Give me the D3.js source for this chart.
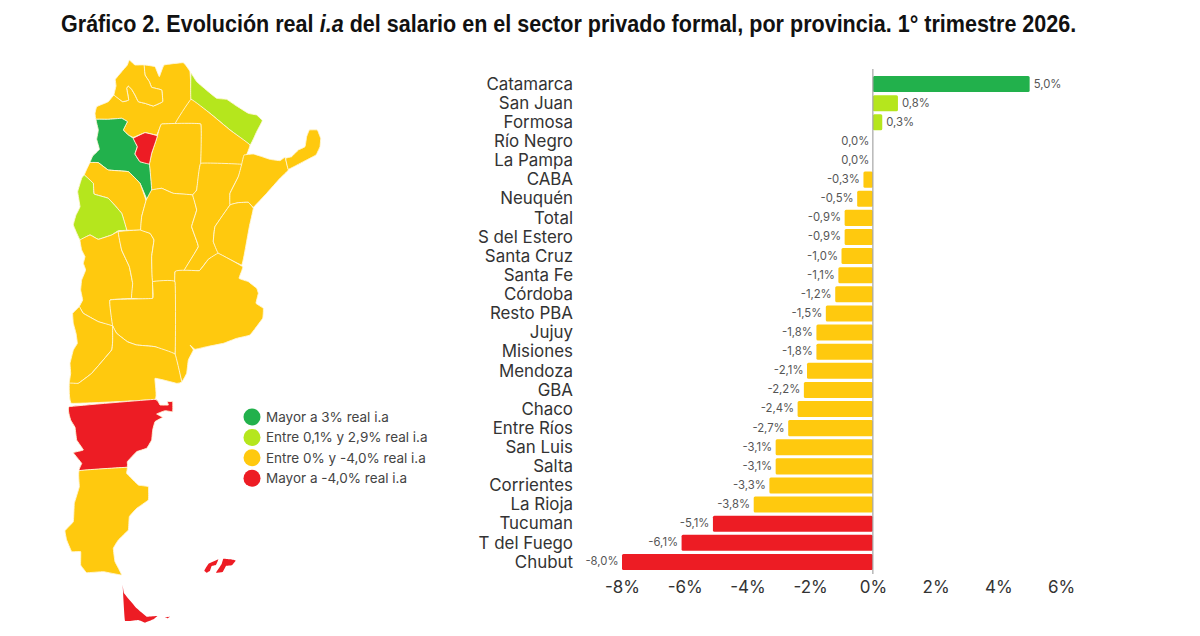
<!DOCTYPE html>
<html lang="es">
<head>
<meta charset="utf-8">
<script src="https://cdn.jsdelivr.net/npm/d3@7"></script>
<style>
html,body{margin:0;padding:0;background:#fff}
svg{display:block}
text{font-family:Inter,"Noto Sans",sans-serif}
</style>
</head>
<body>
<svg id="chart" width="1200" height="636"></svg>
<script>
// Salary change by province, sorted from highest to lowest
const categories = ["Catamarca","San Juan","Formosa","Río Negro","La Pampa","CABA","Neuquén","Total","S del Estero","Santa Cruz","Santa Fe","Córdoba","Resto PBA","Jujuy","Misiones","Mendoza","GBA","Chaco","Entre Ríos","San Luis","Salta","Corrientes","La Rioja","Tucuman","T del Fuego","Chubut"];
const values = [5.0,0.8,0.3,0.0,0.0,-0.3,-0.5,-0.9,-0.9,-1.0,-1.1,-1.2,-1.5,-1.8,-1.8,-2.1,-2.2,-2.4,-2.7,-3.1,-3.1,-3.3,-3.8,-5.1,-6.1,-8.0];
const axisTicks = [-8,-6,-4,-2,0,2,4,6];

const legendLabels = ["Mayor a 3% real i.a","Entre 0,1% y 2,9% real i.a","Entre 0% y -4,0% real i.a","Mayor a -4,0% real i.a"];
const legendColors = ["#22B14C","#B5E61D","#FFC90E","#ED1C24"];

const titleParts = [["Gráfico 2. Evolución real ","normal"],["i.a","italic"],[" del salario en el sector privado formal, por provincia. 1° trimestre 2026.","normal"]];

// Province outlines in map units; each one takes its fill from the salary table
const provinceShapes = [
  ["Salta",[[312,45],[345,50],[358,80],[372,45],[430,38],[450,65],[453,148],[405,222],[365,222],[350,255],[315,248],[280,262],[265,255],[250,240],[262,215],[245,205],[205,208],[168,208],[165,190],[170,170],[205,155],[222,135],[248,155],[266,150],[260,115],[265,108],[275,118],[285,135],[295,155],[315,160],[340,168],[368,155],[365,120],[335,112],[328,95],[315,75]]],
  ["Jujuy",[[222,135],[228,108],[226,88],[245,65],[262,45],[268,30],[285,45],[312,45],[315,75],[328,95],[335,112],[365,120],[368,155],[340,168],[315,160],[295,155],[285,135],[275,118],[265,108],[260,115],[266,150],[248,155]]],
  ["Formosa",[[453,70],[470,95],[505,125],[530,145],[560,148],[585,165],[625,190],[650,195],[667,212],[650,245],[630,285],[570,240],[510,190],[453,148]]],
  ["Chaco",[[453,148],[510,190],[570,240],[630,285],[605,343],[482,340],[482,222],[405,222]]],
  ["S del Estero",[[365,222],[482,222],[482,340],[470,420],[458,435],[400,430],[365,415],[335,420],[328,342],[335,310],[352,258]]],
  ["Catamarca",[[168,208],[205,208],[245,205],[262,215],[250,240],[265,255],[280,265],[292,290],[285,312],[300,335],[328,342],[335,420],[322,450],[300,400],[265,365],[205,360],[175,338],[150,338],[158,318],[178,298],[170,268],[175,240]]],
  ["Tucuman",[[280,265],[315,248],[352,258],[335,310],[328,342],[300,335],[285,312],[292,290]]],
  ["La Rioja",[[150,338],[175,338],[205,360],[265,365],[300,400],[318,452],[305,500],[302,540],[260,540],[245,490],[205,445],[162,432],[160,400],[133,375]]],
  ["San Juan",[[133,375],[160,400],[162,432],[205,445],[245,490],[260,540],[235,542],[215,555],[175,568],[150,555],[120,570],[100,525],[108,495],[120,470],[113,425],[125,385]]],
  ["Mendoza",[[120,570],[150,555],[175,568],[215,555],[235,545],[245,600],[268,650],[278,700],[275,745],[210,750],[218,828],[175,815],[130,790],[118,770],[128,750],[122,720],[125,690],[137,660],[130,640],[135,620],[125,600]]],
  ["San Luis",[[235,545],[302,540],[330,550],[342,570],[335,620],[338,745],[275,745],[278,700],[268,650],[245,600]]],
  ["Córdoba",[[318,452],[335,420],[365,415],[400,430],[458,435],[470,480],[455,530],[475,590],[432,662],[405,665],[405,695],[338,695],[335,620],[342,570],[330,550],[302,540],[305,500]]],
  ["Santa Fe",[[482,340],[605,343],[595,380],[570,430],[570,465],[525,530],[520,575],[535,610],[505,628],[478,662],[432,662],[475,590],[455,530],[470,480],[458,435],[470,420]]],
  ["Corrientes",[[612,315],[640,312],[660,318],[690,328],[720,332],[735,322],[745,360],[720,385],[680,430],[640,472],[625,457],[595,458],[570,464],[570,430],[595,380],[605,343]]],
  ["Misiones",[[737,325],[755,320],[775,300],[795,290],[800,260],[808,240],[832,240],[842,265],[840,290],[828,315],[790,335],[745,358]]],
  ["Entre Ríos",[[570,465],[595,458],[625,457],[640,475],[628,530],[618,585],[605,645],[535,610],[520,575],[525,530]]],
  ["Resto PBA",[[405,665],[478,662],[505,628],[535,610],[608,650],[597,685],[625,695],[650,715],[655,730],[648,760],[670,775],[668,805],[630,855],[590,865],[550,880],[500,890],[465,898],[450,885],[460,900],[445,930],[440,970],[425,995],[405,912]]],
  ["La Pampa",[[210,750],[338,745],[338,695],[405,695],[405,912],[345,890],[290,885],[262,875],[230,850],[218,828]]],
  ["Neuquén",[[118,770],[130,790],[175,815],[218,828],[218,870],[215,900],[155,970],[115,1000],[88,1000],[92,970],[90,940],[100,900],[112,880],[108,850],[100,820],[98,790]]],
  ["Río Negro",[[218,828],[230,850],[262,875],[290,885],[345,890],[405,912],[425,995],[410,1000],[345,985],[345,1048],[95,1060],[88,1000],[115,1000],[155,970],[215,900],[218,870]]],
  ["Chubut",[[88,1070],[345,1048],[360,1065],[385,1065],[382,1055],[398,1055],[398,1085],[375,1082],[350,1092],[368,1102],[345,1115],[338,1140],[335,1170],[320,1195],[290,1205],[262,1235],[260,1252],[118,1262],[125,1240],[100,1208],[130,1200],[110,1170],[105,1132],[92,1110]]],
  ["Santa Cruz",[[118,1262],[260,1252],[260,1270],[295,1305],[325,1310],[325,1350],[290,1375],[268,1400],[265,1440],[235,1470],[220,1495],[225,1535],[245,1575],[190,1565],[140,1568],[122,1545],[122,1505],[95,1505],[80,1470],[75,1442],[100,1415],[103,1360],[118,1310]]],
  ["T del Fuego",[[248,1605],[252,1630],[290,1675],[320,1700],[352,1698],[340,1708],[315,1718],[295,1710],[255,1712]]],
  ["T del Fuego",[[375,1702],[390,1700],[382,1705]]],
  ["T del Fuego",[[493,1562],[505,1542],[535,1528],[528,1545],[515,1548],[510,1562],[500,1568]]],
  ["T del Fuego",[[528,1568],[545,1542],[550,1526],[572,1528],[587,1532],[575,1546],[558,1548],[548,1566]]]
];

const svg = d3.select("#chart");
const valueByName = new Map(categories.map((c,i)=>[c,values[i]]));

// Four colour bands shared by the bars, the provinces and the legend
const band = d3.scaleThreshold().domain([-4,0,3]).range([legendColors[3],legendColors[2],legendColors[1],legendColors[0]]);
const fillFor = v => v === 0 ? legendColors[2] : band(v);
const pct = d3.formatLocale({decimal:",",thousands:".",grouping:[3],currency:["","%"],minus:"-"}).format(".1f");

// Title: three runs laid end to end, then squeezed to the page's heading width
const titleGroup = svg.append("g");
let cursor = 0;
titleParts.forEach(([txt,style])=>{
  const t = titleGroup.append("text").attr("x",cursor).attr("y",0)
    .attr("xml:space","preserve").style("white-space","pre")
    .style("font-family",'"Liberation Sans","Arial",sans-serif')
    .style("font-weight",700).style("font-style",style)
    .style("font-size","23px").attr("fill","#111").text(txt);
  cursor += t.node().getComputedTextLength();
});
titleGroup.attr("transform",`translate(61,32) scale(${1016/cursor},1)`);

// Map
const mx = d3.scaleLinear().domain([0,1200]).range([40,440]);
const my = d3.scaleLinear().domain([0,1800]).range([50,650]);
const outline = d3.line().x(d=>mx(d[0])).y(d=>my(d[1])).curve(d3.curveCardinalClosed.tension(0.8));
svg.append("g").selectAll("path").data(provinceShapes).join("path")
  .attr("d",d=>outline(d[1]))
  .attr("fill",d=>fillFor(valueByName.get(d[0])))
  .attr("stroke",d=>d[0]==="T del Fuego"?"none":"#fff6d8")
  .attr("stroke-width",0.9)
  .attr("stroke-linejoin","round");

// Legend
const legend = svg.append("g").selectAll("g").data(legendLabels).join("g")
  .attr("transform",(d,i)=>`translate(252,${417+i*20.4})`);
legend.append("circle").attr("r",8.5).attr("fill",(d,i)=>legendColors[i]);
legend.append("text").attr("x",14).attr("dy","0.35em").style("font-size","13.5px").attr("fill","#444").text(d=>d);

// Bars
const x = d3.scaleLinear().domain([-8,6]).range([622,1061]);
const y = d3.scaleBand().domain(categories).range([74.5,571.5]).paddingInner(0.16).paddingOuter(0.08);

const bars = svg.append("g").selectAll("g").data(categories).join("g");
bars.filter((d,i)=>values[i]!==0).append("rect")
  .attr("x",d=>x(Math.min(0,valueByName.get(d))))
  .attr("y",d=>y(d))
  .attr("width",d=>Math.abs(x(valueByName.get(d))-x(0)))
  .attr("height",y.bandwidth())
  .attr("rx",1.5)
  .attr("fill",d=>fillFor(valueByName.get(d)));
bars.append("text")
  .attr("x",d=>{const v=valueByName.get(d);return x(v)+(v>0?4:-3.5);})
  .attr("y",d=>y(d)+y.bandwidth()/2-0.5)
  .attr("dy","0.35em")
  .attr("text-anchor",d=>valueByName.get(d)>0?"start":"end")
  .style("font-size","11.3px").attr("fill","#555")
  .text(d=>pct(valueByName.get(d))+"%");

// Province names
svg.append("g").selectAll("text").data(categories).join("text")
  .attr("x",573).attr("y",d=>y(d)+y.bandwidth()/2-0.2).attr("dy","0.35em")
  .attr("text-anchor","end").style("font-size","16.9px").attr("fill","#333").text(d=>d);

// Zero line and percentage axis
svg.append("line").attr("x1",x(0)).attr("x2",x(0)).attr("y1",69).attr("y2",574)
  .attr("stroke","#a6a6a6").attr("stroke-width",1.2);
const axis = svg.append("g").attr("transform","translate(0,581)")
  .call(d3.axisBottom(x).tickValues(axisTicks).tickSize(0).tickPadding(0).tickFormat(d=>d+"%"));
axis.select(".domain").remove();
axis.selectAll("text").style("font-size","17px").style("font-family","Inter,sans-serif").attr("fill","#333");
</script>
</body>
</html>
